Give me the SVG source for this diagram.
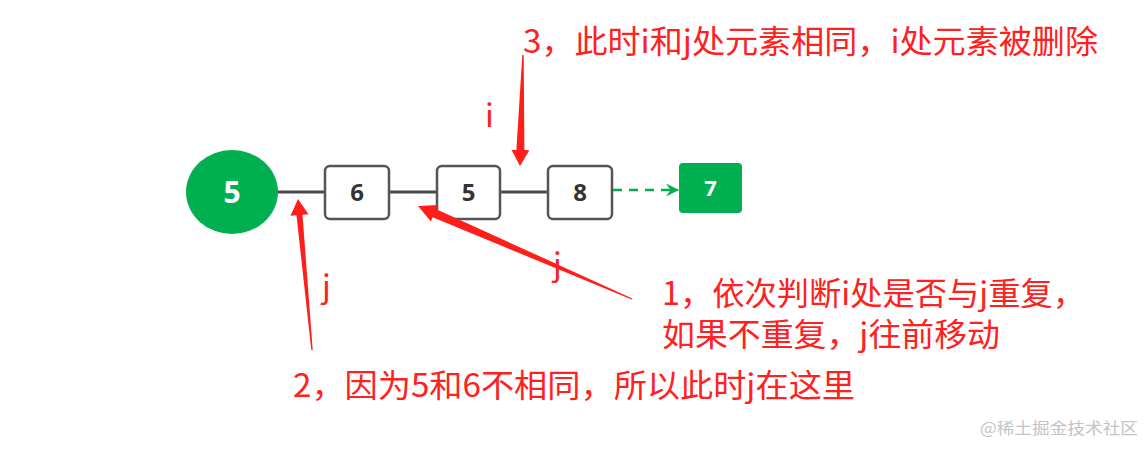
<svg xmlns="http://www.w3.org/2000/svg" width="1146" height="453" viewBox="0 0 1146 453">
<defs>
<style>
.link{stroke:#4a4a4a;stroke-width:3;fill:none}
.box{fill:#fff;stroke:#555;stroke-width:2.5}
.num{font-family:"Noto Sans","Open Sans","DejaVu Sans",sans-serif;font-weight:bold;fill:#333;text-anchor:middle}
.wnum{fill:#fff}
.red{font-family:"Noto Sans CJK SC","Noto Sans",sans-serif;font-size:32px;fill:#ff2020}
.arrow{fill:#ff1f1a}
</style>
<marker id="gh" viewBox="0 0 12 12" refX="11" refY="6" markerWidth="13" markerHeight="13" markerUnits="userSpaceOnUse" orient="auto">
<path d="M0,0 L12,6 L0,12 L4,6 Z" fill="#00b050"/>
</marker>
</defs>
<rect width="1146" height="453" fill="#fff"/>
<g id="connectors">
<line class="link" x1="276" y1="192" x2="326" y2="192"/>
<line class="link" x1="389" y1="192" x2="438" y2="192"/>
<line class="link" x1="500" y1="192" x2="549" y2="192"/>
<line x1="613" y1="190" x2="678" y2="190" stroke="#00b050" stroke-width="2.5" stroke-dasharray="9,7" marker-end="url(#gh)"/>
</g>
<g id="node-head">
<ellipse cx="232" cy="192" rx="46" ry="42" fill="#00b050"/>
<text class="num wnum" x="232" y="203" font-size="30">5</text>
</g>
<g id="node-6">
<rect class="box" x="325" y="166" width="64" height="53" rx="5"/>
<text class="num" x="357" y="201" font-size="24">6</text>
</g>
<g id="node-5">
<rect class="box" x="437" y="166" width="63" height="53" rx="5"/>
<text class="num" x="468.5" y="201" font-size="24">5</text>
</g>
<g id="node-8">
<rect class="box" x="548" y="166" width="64" height="53" rx="5"/>
<text class="num" x="580" y="201" font-size="24">8</text>
</g>
<g id="node-7">
<rect x="679" y="163" width="63" height="50" rx="4" fill="#00b050"/>
<text class="num wnum" x="710.5" y="196" font-size="22">7</text>
</g>
<g id="arrows">
<polygon class="arrow" points="298,199 308.5,214.2 302.5,214.7 312.7,349.9 311.3,350.1 296.5,215.3 290.5,215.8"/>
<polygon class="arrow" points="418,206 438.1,204.9 436.3,209.3 632.3,298.4 631.7,299.6 432.7,217.3 430.9,221.5"/>
<polygon class="arrow" points="520,166 529.4,150.2 524.4,150.1 523.7,55 522.3,55 516.4,149.9 511.4,149.8"/>
</g>
<g id="labels">
<text class="red" x="523" y="53" textLength="575" lengthAdjust="spacingAndGlyphs">3，此时i和j处元素相同，i处元素被删除</text>
<text class="red" x="485" y="127">i</text>
<text class="red" x="322" y="298">j</text>
<text class="red" x="553" y="276">j</text>
<text class="red" x="662" y="305" textLength="423" lengthAdjust="spacingAndGlyphs">1，依次判断i处是否与j重复，</text>
<text class="red" x="662" y="346" textLength="338" lengthAdjust="spacingAndGlyphs">如果不重复，j往前移动</text>
<text class="red" x="293" y="397" textLength="562" lengthAdjust="spacingAndGlyphs">2，因为5和6不相同，所以此时j在这里</text>
<text x="980" y="434" font-family="Noto Sans CJK SC,sans-serif" font-size="16" fill="#c4c4c4" textLength="158" lengthAdjust="spacingAndGlyphs">@稀土掘金技术社区</text>
</g>
</svg>
